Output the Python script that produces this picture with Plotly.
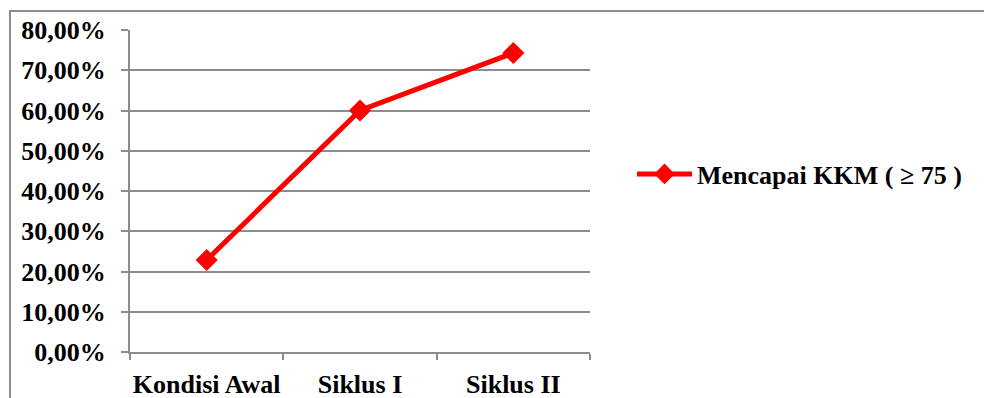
import plotly.graph_objects as go

# Percentage of students reaching the minimum mastery criterion (KKM)
categories = ["Kondisi Awal", "Siklus I", "Siklus II"]
mencapai_kkm = [0.2286, 0.60, 0.7429]
series_name = "Mencapai KKM ( \u2265 75 )"
y_ticks = [0, 0.1, 0.2, 0.3, 0.4, 0.5, 0.6, 0.7, 0.8]

W, H = 984, 398
ML, MR, MT, MB = 130, 394, 30, 46
plot_w = W - ML - MR
plot_h = H - MT - MB

FONT = "Liberation Serif, Times New Roman, serif"
GRID = "#8c8c8c"
RED = "#ff0000"
FS = 26

fig = go.Figure()
fig.add_trace(go.Scatter(
    x=categories,
    y=mencapai_kkm,
    mode="lines+markers",
    name=series_name,
    line=dict(color=RED, width=5),
    marker=dict(symbol="diamond", size=17, color=RED),
))

# Outer chart frame (extends beyond the visible page on the right and bottom)
def px_x(px):
    return (px - ML) / plot_w

def px_y(py):
    return (H - MB - py) / plot_h

fig.add_shape(
    type="rect", xref="paper", yref="paper",
    x0=px_x(10), x1=px_x(W + 20), y0=px_y(H + 20), y1=px_y(11),
    line=dict(color=GRID, width=2), fillcolor="rgba(0,0,0,0)", layer="below",
)

fig.update_layout(
    width=W, height=H,
    margin=dict(l=ML, r=MR, t=MT, b=MB, pad=0, autoexpand=False),
    paper_bgcolor="white", plot_bgcolor="white",
    separators=", ",
    font=dict(family=FONT, size=FS, color="black"),
    showlegend=True,
    legend=dict(
        x=px_x(632), y=px_y(174), xanchor="left", yanchor="middle",
        font=dict(family=FONT, size=FS, color="black", weight="bold"),
        bgcolor="rgba(0,0,0,0)", itemwidth=55,
    ),
)

fig.update_xaxes(
    type="category", range=[-0.5, 2.5], automargin=False, tickangle=0,
    showline=True, linecolor=GRID, linewidth=2,
    ticks="outside", tickson="boundaries", ticklen=6, tickcolor=GRID, tickwidth=2,
    showgrid=False, zeroline=False,
    tickfont=dict(family=FONT, size=FS, color="black", weight="bold"),
    ticklabelstandoff=8,
)
fig.update_yaxes(
    range=[0, 0.8], tickvals=y_ticks, tickformat=".2%", automargin=False,
    showline=True, linecolor=GRID, linewidth=2,
    ticks="outside", ticklen=7, tickcolor=GRID, tickwidth=2,
    showgrid=True, gridcolor=GRID, gridwidth=2, zeroline=False,
    tickfont=dict(family=FONT, size=FS, color="black", weight="bold"),
    ticklabelstandoff=10,
)

fig.write_html("out.html")
